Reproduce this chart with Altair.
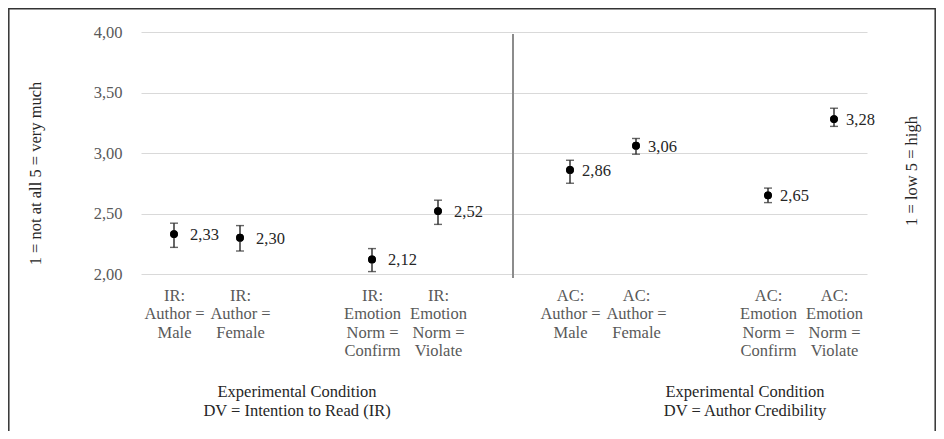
import json
import altair as alt
import pandas as pd

# ---- data ----
positions = [0, 1, 3, 4, 6, 7, 9, 10]
groups = ["IR", "IR", "IR", "IR", "AC", "AC", "AC", "AC"]
category_lines = [
    ["IR:", "Author =", "Male"],
    ["IR:", "Author =", "Female"],
    ["IR:", "Emotion", "Norm =", "Confirm"],
    ["IR:", "Emotion", "Norm =", "Violate"],
    ["AC:", "Author =", "Male"],
    ["AC:", "Author =", "Female"],
    ["AC:", "Emotion", "Norm =", "Confirm"],
    ["AC:", "Emotion", "Norm =", "Violate"],
]
means = [2.33, 2.30, 2.12, 2.52, 2.86, 3.06, 2.65, 3.28]
lower = [2.22, 2.19, 2.02, 2.41, 2.75, 2.99, 2.59, 3.22]
upper = [2.42, 2.40, 2.21, 2.61, 2.94, 3.12, 2.71, 3.37]
mean_labels = ["2,33", "2,30", "2,12", "2,52", "2,86", "3,06", "2,65", "3,28"]
y_ticks = [2.0, 2.5, 3.0, 3.5, 4.0]
left_title = "1 = not at all 5 = very much"
right_title = "1 = low 5 = high"
bottom_titles = [
    ["Experimental Condition", "DV = Intention to Read (IR)"],
    ["Experimental Condition", "DV = Author Credibility"],
]

df = pd.DataFrame({
    "pos": positions,
    "group": groups,
    "mean": means,
    "lower": lower,
    "upper": upper,
    "label": mean_labels,
})

FONT = "Liberation Serif"
FS = 16.5
GRAY = "#595959"
DARK = "#262626"

label_expr = " : ".join(
    f"datum.value == {p} ? {json.dumps(lines)}" for p, lines in zip(positions, category_lines)
) + " : ''"

x_scale = alt.Scale(domain=[-0.5, 10.5], nice=False, zero=False)
y_scale = alt.Scale(domain=[2, 4], nice=False, zero=False)

x_enc = alt.X(
    "pos:Q",
    scale=x_scale,
    axis=alt.Axis(
        values=positions,
        labelExpr=label_expr,
        grid=False,
        domain=False,
        ticks=False,
        labelPadding=13,
        labelFont=FONT,
        labelFontSize=FS,
        labelColor=GRAY,
        labelLineHeight=18.5,
        labelAngle=0,
        labelAlign="center",
        labelOverlap=False,
        title=None,
    ),
)

y_enc = alt.Y(
    "mean:Q",
    scale=y_scale,
    axis=alt.Axis(
        values=y_ticks,
        labelExpr="replace(format(datum.value, '.2f'), '.', ',')",
        grid=True,
        gridColor="#d9d9d9",
        gridWidth=1,
        domain=False,
        ticks=False,
        labelPadding=19,
        labelFont=FONT,
        labelFontSize=FS,
        labelColor=GRAY,
        title=left_title,
        titleFont=FONT,
        titleFontSize=FS,
        titleFontWeight="normal",
        titleColor=DARK,
        titleAngle=270,
        titleX=-106,
        titleY=141,
        titleAlign="center",
        titleBaseline="middle",
    ),
)

base = alt.Chart(df)

stems = base.mark_rule(color="#262626", strokeWidth=1.4).encode(
    x=alt.X("pos:Q", scale=x_scale), y=alt.Y("lower:Q", scale=y_scale), y2="upper:Q"
)
caps_lo = base.mark_tick(orient="horizontal", size=8, thickness=1.4, color="#262626").encode(
    x=alt.X("pos:Q", scale=x_scale), y=alt.Y("lower:Q", scale=y_scale)
)
caps_hi = base.mark_tick(orient="horizontal", size=8, thickness=1.4, color="#262626").encode(
    x=alt.X("pos:Q", scale=x_scale), y=alt.Y("upper:Q", scale=y_scale)
)
points = base.mark_circle(size=60, color="#000000", opacity=1).encode(x=x_enc, y=y_enc)

labels_ir = base.transform_filter(alt.datum.group == "IR").mark_text(
    align="left", baseline="middle", dx=16, dy=1, font=FONT, fontSize=FS, color=DARK
).encode(x=alt.X("pos:Q", scale=x_scale), y=alt.Y("mean:Q", scale=y_scale), text="label:N")
labels_ac = base.transform_filter(alt.datum.group == "AC").mark_text(
    align="left", baseline="middle", dx=12, dy=1, font=FONT, fontSize=FS, color=DARK
).encode(x=alt.X("pos:Q", scale=x_scale), y=alt.Y("mean:Q", scale=y_scale), text="label:N")

one = alt.Data(values=[{}])

divider = alt.Chart(one).mark_rule(color="#8c8c8c", strokeWidth=2).encode(
    x=alt.value(372), y=alt.value(2), y2=alt.value(246)
)

right_t = alt.Chart(one).mark_text(
    angle=270, align="center", baseline="middle", font=FONT, fontSize=FS, color=DARK
).encode(x=alt.value(771), y=alt.value(139), text=alt.value(right_title))

bt1 = alt.Chart(one).mark_text(
    align="center", baseline="alphabetic", font=FONT, fontSize=FS, color=DARK, lineHeight=19
).encode(x=alt.value(156), y=alt.value(365), text=alt.value(bottom_titles[0]))
bt2 = alt.Chart(one).mark_text(
    align="center", baseline="alphabetic", font=FONT, fontSize=FS, color=DARK, lineHeight=19
).encode(x=alt.value(604), y=alt.value(365), text=alt.value(bottom_titles[1]))

border = alt.Chart(one).mark_rect(fill=None, stroke="#333333", strokeWidth=1.5, fillOpacity=0).encode(
    x=alt.value(-132.2), y=alt.value(-23.2), x2=alt.value(726 + 68.2), y2=alt.value(500)
)

chart = alt.layer(
    points, stems, caps_lo, caps_hi, points, labels_ir, labels_ac, divider, right_t, bt1, bt2, border
).properties(
    width=726,
    height=242,
    autosize=alt.AutoSizeParams(type="none"),
    padding={"left": 133, "top": 24, "right": 69, "bottom": 157},
    background="white",
).configure_view(stroke=None)

chart.save("out.html", embed_options={"renderer": "svg", "actions": False})
